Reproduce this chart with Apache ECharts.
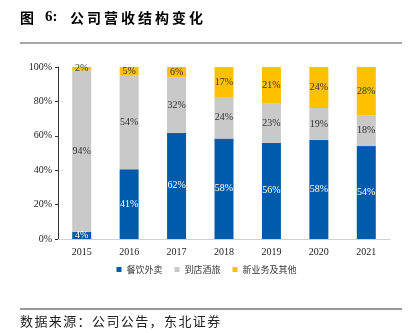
<!DOCTYPE html>
<html><head><meta charset="utf-8">
<script src="https://cdn.jsdelivr.net/npm/echarts@6/dist/echarts.min.js"></script>
<style>html,body{margin:0;padding:0;background:#fff}#c{width:413px;height:333px}</style>
</head><body><div id="c"></div>
<script>
const categories = ['2015','2016','2017','2018','2019','2020','2021'];
const delivery = [4.2, 40.6, 61.8, 58.4, 56.0, 57.6, 54.0];
const inStore = [93.8, 54.4, 32.2, 24.2, 23.0, 18.6, 18.0];
const newBiz = [2.0, 5.0, 6.0, 17.4, 21.0, 23.8, 28.0];
const yTicks = ['0%','20%','40%','60%','80%','100%'];
const seriesNames = ['餐饮外卖','到店酒旅','新业务及其他'];
const titleText = '公司营收结构变化';
const sourceText = '数据来源：公司公告，东北证券';

const serif = '"Liberation Serif","Times New Roman",serif';
const cjk = '"Noto Sans CJK SC",sans-serif';
const lbl = (color) => ({show:true, position:'inside', color:color, fontFamily:serif, fontSize:10,
  formatter: p => Math.round(p.value) + '%'});

const graphics = [
  {type:'line', shape:{x1:20, y1:43, x2:402, y2:43}, style:{stroke:'#888', lineWidth:1.5}},
  {type:'line', shape:{x1:20, y1:309, x2:402, y2:309}, style:{stroke:'#333', lineWidth:1}},
  {type:'text', x:20, y:11, style:{text:'图', font:'bold 14px ' + cjk, fill:'#000'}},
  {type:'text', x:45, y:10, style:{text:'6:', font:'bold 15px ' + serif, fill:'#000'}}
];
[...titleText].forEach((ch,i)=>graphics.push({type:'text', x:70 + i*17, y:11,
  style:{text:ch, font:'bold 14px ' + cjk, fill:'#000'}}));
[...sourceText].forEach((ch,i)=>graphics.push({type:'text', x:20 + i*14.4, y:315,
  style:{text:ch, font:'13px ' + cjk, fill:'#222'}}));

const chart = echarts.init(document.getElementById('c'));
chart.setOption({
  animation:false,
  grid:{left:58, right:23, top:67, bottom:94, containLabel:false},
  legend:{bottom:54, left:'center', itemWidth:5, itemHeight:5, itemGap:12, icon:'rect',
    textStyle:{fontFamily:cjk, fontSize:9, color:'#333'}, data:seriesNames},
  xAxis:{type:'category', data:categories,
    axisLine:{lineStyle:{color:'#d0d0d0', width:1}}, axisTick:{show:false},
    axisLabel:{fontFamily:serif, fontSize:10, color:'#222', margin:8}},
  yAxis:{type:'value', min:0, max:100, interval:20,
    axisLine:{show:true, lineStyle:{color:'#333'}},
    axisTick:{show:true, length:3, lineStyle:{color:'#333'}},
    splitLine:{show:false},
    axisLabel:{fontFamily:serif, fontSize:10, color:'#222', margin:6,
      formatter: v => yTicks[v/20]}},
  series:[
    {name:seriesNames[0], type:'bar', stack:'a', data:delivery, barWidth:19,
      itemStyle:{color:'#005bac'}, label:lbl('#fff')},
    {name:seriesNames[1], type:'bar', stack:'a', data:inStore, barWidth:19,
      itemStyle:{color:'#c9c9c9'}, label:lbl('#333')},
    {name:seriesNames[2], type:'bar', stack:'a', data:newBiz, barWidth:19,
      itemStyle:{color:'#ffc000'}, label:lbl('#333')}
  ],
  graphic:graphics
});
</script></body></html>
